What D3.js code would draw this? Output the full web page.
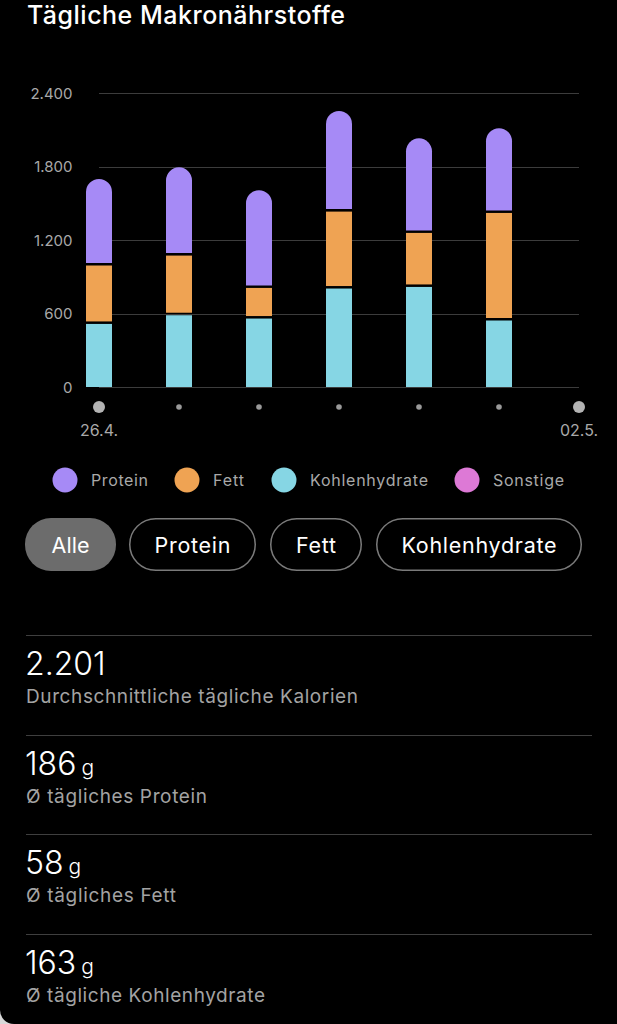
<!DOCTYPE html>
<html><head><meta charset="utf-8">
<script src="https://cdn.jsdelivr.net/npm/d3@7"></script>
<style>
html,body{margin:0;padding:0;background:#d8d8d8;}
svg{display:block;}
</style></head>
<body>
<svg id="chart" width="617" height="1024"></svg>
<script>
// ---- data ----
const days = ["26.4.","27.4.","28.4.","29.4.","30.4.","01.5.","02.5."];
const shownDayLabels = ["26.4.","02.5."];
const carbs   = [525, 596, 569, 814, 827, 553, null];
const fat     = [477, 487, 250, 628, 441, 878, null];
const protein = [696, 710, 787, 811, 762, 681, null];
const yTickValues = [0, 600, 1200, 1800, 2400];
const yTickLabels = ["0", "600", "1.200", "1.800", "2.400"];
const legendNames = ["Protein", "Fett", "Kohlenhydrate", "Sonstige"];
const filterNames = ["Alle", "Protein", "Fett", "Kohlenhydrate"];
const statValues = ["2.201", "186", "58", "163"];
const statUnits = ["", "g", "g", "g"];
const statLabels = ["Durchschnittliche tägliche Kalorien", "Ø tägliches Protein", "Ø tägliches Fett", "Ø tägliche Kohlenhydrate"];

// ---- styles ----
const colors = {Protein:"#a68af6", Fett:"#efa353", Kohlenhydrate:"#86d6e4", Sonstige:"#dd79d6"};
const FONT = "Inter, Roboto, 'Noto Sans', sans-serif";

const svg = d3.select("#chart");
// helper: widen text to the reference's wider system font by spacing
function fit(sel, w) {
  sel.each(function(d, i) {
    const target = typeof w === "function" ? w(d, i) : w;
    if (!target) return;
    d3.select(this).attr("textLength", target).attr("lengthAdjust", "spacing");
  });
}

// card background with rounded bottom-left corner
svg.append("path")
  .attr("d", "M0,0 H617 V1024 H14 A14,14 0 0 1 0,1010 Z")
  .attr("fill", "#000");

svg.append("text").attr("x", 27).attr("y", 24)
  .attr("fill", "#fff").attr("font-family", FONT).attr("font-weight", 500)
  .attr("font-size", 25).text("Tägliche Makronährstoffe").call(fit, 318);

// scales
const x = d3.scalePoint().domain(days).range([99, 579]);
const y = d3.scaleLinear().domain([0, 2400]).range([387, 93]);

// grid + y axis
const yAxis = d3.axisLeft(y).tickValues(yTickValues)
  .tickFormat((d, i) => yTickLabels[i]).tickSize(0).tickPadding(0);
const ga = svg.append("g").attr("transform", "translate(72.5,0)").call(yAxis);
ga.select(".domain").remove();
ga.selectAll("text").attr("fill", "#a9a9a9").attr("font-family", FONT)
  .attr("font-size", 15).attr("dy", "0.36em").attr("dx", 0);

svg.append("g").selectAll("line").data(yTickValues).join("line")
  .attr("x1", x(days[0])).attr("x2", x(days[days.length-1]))
  .attr("y1", d => Math.round(y(d)) + 0.5).attr("y2", d => Math.round(y(d)) + 0.5)
  .attr("stroke", "#3c3c3c").attr("stroke-width", 1);

// stacked bars
const rows = days.map((d, i) => ({day: d, Kohlenhydrate: carbs[i], Fett: fat[i], Protein: protein[i]}))
  .filter(r => r.Protein != null);
const keys = ["Kohlenhydrate", "Fett", "Protein"];
const stacked = d3.stack().keys(keys)(rows);
const bw = 26, gap = 1.25, r = bw / 2;

stacked.forEach(layer => {
  const g = svg.append("g");
  layer.forEach(seg => {
    const cx = x(seg.data.day);
    const x0 = cx - bw / 2;
    const yb = y(seg[0]) - (seg[0] > 0 ? gap : 0);
    const yt = y(seg[1]) + (layer.key !== "Protein" ? gap : 0);
    if (layer.key === "Protein") {
      const p = `M${x0},${yb} V${yt + r} A${r},${r} 0 0 1 ${x0 + bw},${yt + r} V${yb} Z`;
      g.append("path").attr("d", p).attr("fill", colors[layer.key]);
    } else {
      g.append("rect").attr("x", x0).attr("y", yt).attr("width", bw)
        .attr("height", Math.max(0, yb - yt)).attr("fill", colors[layer.key]);
    }
  });
});

// x markers
svg.append("g").selectAll("circle").data(days).join("circle")
  .attr("cx", d => x(d)).attr("cy", 407)
  .attr("r", d => shownDayLabels.includes(d) ? 6 : 2.8)
  .attr("fill", d => shownDayLabels.includes(d) ? "#b3b3b3" : "#9a9a9a");
svg.append("g").selectAll("text").data(shownDayLabels).join("text")
  .attr("x", d => x(d)).attr("y", 436).attr("text-anchor", "middle")
  .attr("fill", "#a9a9a9").attr("font-family", FONT).attr("font-size", 16)
  .text(d => d);

// legend
const legendX = [65, 187, 284, 467];
const legendW = [57, 31, 118, 71];
const lg = svg.append("g").selectAll("g").data(legendNames).join("g")
  .attr("transform", (d, i) => `translate(${legendX[i]},480)`);
lg.append("circle").attr("r", 12.5).attr("fill", d => colors[d]);
lg.append("text").attr("x", 26).attr("dy", "0.36em").attr("fill", "#a9a9a9")
  .attr("font-family", FONT).attr("font-size", 16).text(d => d)
  .call(fit, (d, i) => legendW[i]);

// filter pills
const pillX = [[25,116],[129,256],[270,362],[376,582]];
const pillTextW = [38, 76, 40, 155];
const pg = svg.append("g").selectAll("g").data(filterNames).join("g");
pg.append("rect")
  .attr("x", (d, i) => pillX[i][0] + (i ? 0.75 : 0)).attr("y", (d,i) => 518 + (i ? 0.75 : 0))
  .attr("width", (d, i) => pillX[i][1] - pillX[i][0] - (i ? 1.5 : 0))
  .attr("height", (d, i) => 53 - (i ? 1.5 : 0))
  .attr("rx", 26).attr("ry", 26)
  .attr("fill", (d, i) => i === 0 ? "#6c6c6c" : "none")
  .attr("stroke", (d, i) => i === 0 ? "none" : "#7a7a7a").attr("stroke-width", 1.5);
pg.append("text")
  .attr("x", (d, i) => (pillX[i][0] + pillX[i][1]) / 2).attr("y", 545)
  .attr("dy", "0.36em").attr("text-anchor", "middle")
  .attr("fill", "#fff").attr("font-family", FONT).attr("font-size", 21.5)
  .text(d => d).call(fit, (d, i) => pillTextW[i]);

// stats
const sepY = [635, 735, 834, 934];
const statLabelW = [332, 181, 150, 239];
const sg = svg.append("g").selectAll("g").data(statValues).join("g")
  .attr("transform", (d, i) => `translate(0,${sepY[i]})`);
sg.append("line").attr("x1", 26).attr("x2", 592).attr("y1", 0.5).attr("y2", 0.5)
  .attr("stroke", "#3f3f3f").attr("stroke-width", 1.2);
const vt = sg.append("text").attr("x", 25).attr("y", 40)
  .attr("fill", "#fff").attr("font-family", FONT).attr("font-weight", 300);
vt.append("tspan").attr("font-size", 32).text(d => d);
vt.append("tspan").attr("font-size", 21).attr("dx", 5).text((d, i) => statUnits[i]);
sg.append("text").attr("x", 26).attr("y", 68)
  .attr("fill", "#a3a3a3").attr("font-family", FONT).attr("font-size", 19)
  .text((d, i) => statLabels[i]).call(fit, (d, i) => statLabelW[i]);
</script>
</body></html>
